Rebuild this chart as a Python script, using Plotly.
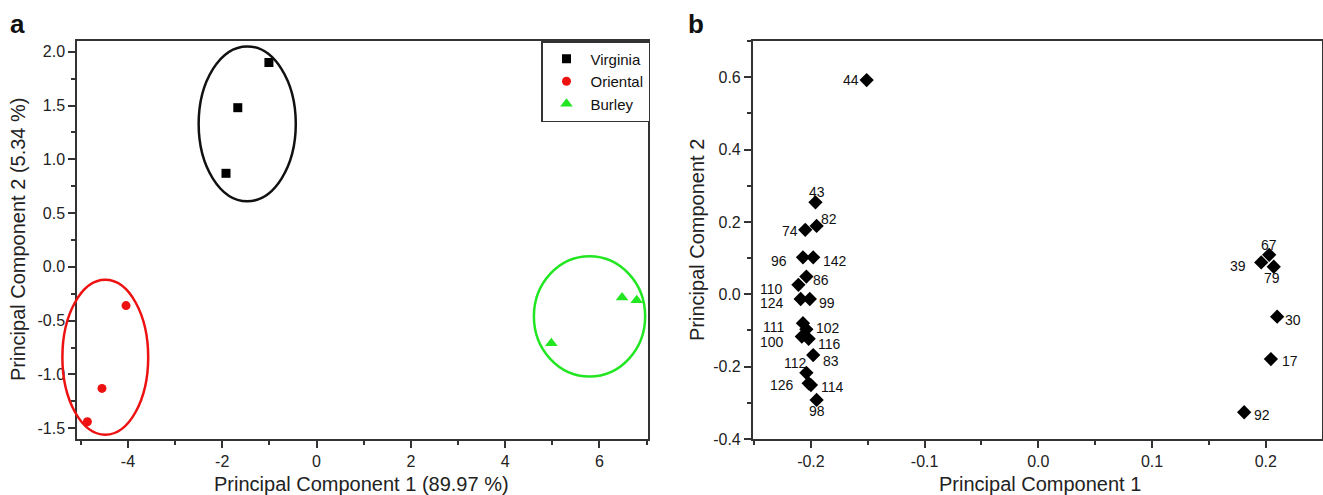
import plotly.graph_objects as go

# ---------------- Panel a data ----------------
virginia_x = [-1.01, -1.67, -1.92]
virginia_y = [1.90, 1.48, 0.87]
oriental_x = [-4.04, -4.55, -4.86]
oriental_y = [-0.36, -1.13, -1.44]
burley_x = [6.48, 6.79, 4.98]
burley_y = [-0.285, -0.31, -0.71]

# ellipses: center x, center y, radius x, radius y
ell_names = ["Virginia", "Oriental", "Burley"]
ell_cx = [-1.47, -4.48, 5.79]
ell_cy = [1.33, -0.84, -0.46]
ell_rx = [1.03, 0.91, 1.18]
ell_ry = [0.72, 0.72, 0.56]
ell_colors = ["#111111", "#ee1111", "#22e622"]

# ---------------- Panel b data ----------------
b_labels = ["44", "43", "82", "74", "96", "142", "86", "110", "124", "99",
            "111", "102", "100", "116", "83", "112", "126", "114", "98",
            "67", "39", "79", "30", "17", "92"]
b_x = [-0.151, -0.196, -0.195, -0.205, -0.207, -0.198, -0.204, -0.211, -0.209, -0.201,
       -0.207, -0.204, -0.208, -0.202, -0.198, -0.204, -0.202, -0.200, -0.195,
       0.203, 0.196, 0.207, 0.210, 0.2045, 0.181]
b_y = [0.592, 0.254, 0.189, 0.178, 0.102, 0.102, 0.049, 0.026, -0.013, -0.013,
       -0.080, -0.097, -0.117, -0.123, -0.168, -0.217, -0.246, -0.251, -0.292,
       0.109, 0.088, 0.076, -0.062, -0.179, -0.326]
# label placement (style): anchor, x shift px, y shift px
b_anchor = ["right", "center", "left", "right", "right", "left", "left", "right", "right", "left",
            "right", "left", "right", "left", "left", "right", "right", "left", "center",
            "center", "right", "center", "left", "left", "left"]
b_dx = [-6, 2, 2, -5, -14, 8, 5, -13, -15, 7,
        -17, 8, -16, 7, 8, 3, -13, 8, 0,
        0, -13, -2, 6, 9, 8]
b_dy = [0, 10, 7, -1, -4, -4, -3, -4, -4, -4,
        -4, 1, -5, -5, -6, 10, -2, -2, -11,
        10, -4, -11, -3, -2, -3]

# ---------------- Layout geometry ----------------
W, H = 1323, 495
ax_a_dom = [77 / W, 648 / W]
ay_dom = [1 - 439 / H, 1 - 41 / H]
ax_b_dom = [752.7 / W, 1321.5 / W]
xa_range = [-5.08, 7.03]
ya_range = [-1.6, 2.1]
xb_range = [-0.2512, 0.249]
yb_range = [-0.4, 0.7]

FONT = "Liberation Sans, Arial, sans-serif"
LINE = "#333333"

fig = go.Figure()

fig.add_trace(go.Scatter(x=virginia_x, y=virginia_y, mode="markers", name="Virginia",
                         marker=dict(symbol="square", size=9, color="#000000"),
                         xaxis="x", yaxis="y"))
fig.add_trace(go.Scatter(x=oriental_x, y=oriental_y, mode="markers", name="Oriental",
                         marker=dict(symbol="circle", size=9, color="#ee1111"),
                         xaxis="x", yaxis="y", cliponaxis=False))
fig.add_trace(go.Scatter(x=burley_x, y=burley_y, mode="markers", name="Burley",
                         marker=dict(symbol="triangle-up", size=11, color="#22e622"),
                         xaxis="x", yaxis="y", cliponaxis=False))

fig.add_trace(go.Scatter(x=b_x, y=b_y, mode="markers", showlegend=False,
                         marker=dict(symbol="diamond", size=11, color="#000000"),
                         xaxis="x2", yaxis="y2", cliponaxis=False))

for lab, x, y, anc, dx, dy in zip(b_labels, b_x, b_y, b_anchor, b_dx, b_dy):
    fig.add_annotation(x=x, y=y, xref="x2", yref="y2", text=lab, showarrow=False,
                       xanchor=anc, yanchor="middle", xshift=dx, yshift=dy,
                       font=dict(family="Liberation Sans, Arial, sans-serif", size=14,
                                 color="#111111"))


def to_paper(v, rng, dom):
    return dom[0] + (v - rng[0]) / (rng[1] - rng[0]) * (dom[1] - dom[0])


for cx, cy, rx, ry, col in zip(ell_cx, ell_cy, ell_rx, ell_ry, ell_colors):
    fig.add_shape(type="circle", xref="paper", yref="paper",
                  x0=to_paper(cx - rx, xa_range, ax_a_dom),
                  x1=to_paper(cx + rx, xa_range, ax_a_dom),
                  y0=to_paper(cy - ry, ya_range, ay_dom),
                  y1=to_paper(cy + ry, ya_range, ay_dom),
                  line=dict(color=col, width=2.5))

common = dict(showline=True, linecolor=LINE, linewidth=1.5, mirror=True,
              ticks="outside", ticklen=7, tickwidth=1.5, tickcolor=LINE,
              showgrid=False, zeroline=False,
              tickfont=dict(family=FONT, size=16, color="#222222"))

xa_vals = [-4, -2, 0, 2, 4, 6]
ya_vals = [-1.5, -1.0, -0.5, 0.0, 0.5, 1.0, 1.5, 2.0]
xb_vals = [-0.2, -0.1, 0.0, 0.1, 0.2]
yb_vals = [-0.4, -0.2, 0.0, 0.2, 0.4, 0.6]


def fmt(v, d):
    return f"{v:.{d}f}"


fig.update_layout(
    width=W, height=H, autosize=False,
    margin=dict(l=0, r=0, t=0, b=0, autoexpand=False),
    paper_bgcolor="white", plot_bgcolor="white",
    font=dict(family=FONT, color="#222222"),
    xaxis=dict(domain=ax_a_dom, range=xa_range, anchor="y",
               tickvals=xa_vals, ticktext=[fmt(v, 0) for v in xa_vals],
               minor=dict(dtick=1, tick0=0, ticks="outside", ticklen=4, tickcolor=LINE),
               **common),
    yaxis=dict(domain=ay_dom, range=ya_range, anchor="x",
               tickvals=ya_vals, ticktext=[fmt(v, 1) for v in ya_vals],
               minor=dict(dtick=0.25, tick0=0, ticks="outside", ticklen=4, tickcolor=LINE),
               **common),
    xaxis2=dict(domain=ax_b_dom, range=xb_range, anchor="y2",
                tickvals=xb_vals, ticktext=[fmt(v, 1) for v in xb_vals],
                minor=dict(dtick=0.05, tick0=0, ticks="outside", ticklen=4, tickcolor=LINE),
                **common),
    yaxis2=dict(domain=ay_dom, range=yb_range, anchor="x2",
                tickvals=yb_vals, ticktext=[fmt(v, 1) for v in yb_vals],
                minor=dict(dtick=0.1, tick0=0, ticks="outside", ticklen=4, tickcolor=LINE),
                **common),
    showlegend=True,
    legend=dict(x=650 / W, y=1 - 41 / H, xanchor="right", yanchor="top",
                bgcolor="white", bordercolor=LINE, borderwidth=1.5,
                font=dict(family=FONT, size=15, color="#111111"),
                itemwidth=38, itemsizing="trace", tracegroupgap=0),
)

annots = [
    dict(text="<b>a</b>", x=17 / W, y=1 - 24 / H, font=dict(size=26, color="#111111")),
    dict(text="<b>b</b>", x=696 / W, y=1 - 24 / H, font=dict(size=26, color="#111111")),
    dict(text="Principal Component 1 (89.97 %)", x=362 / W, y=1 - 484 / H,
         font=dict(size=20, color="#222222")),
    dict(text="Principal Component 2 (5.34 %)", x=18 / W, y=1 - 240 / H,
         font=dict(size=20, color="#222222"), textangle=-90),
    dict(text="Principal Component 1", x=1040 / W, y=1 - 484 / H,
         font=dict(size=20, color="#222222")),
    dict(text="Principal Component 2", x=697 / W, y=1 - 240 / H,
         font=dict(size=20, color="#222222"), textangle=-90),
]
for a in annots:
    fig.add_annotation(xref="paper", yref="paper", showarrow=False,
                       xanchor="center", yanchor="middle", **a)

fig.write_html("out.html", config={"responsive": False, "displayModeBar": False},
               post_script="document.body.style.margin='0px';document.body.style.overflow='hidden';")
